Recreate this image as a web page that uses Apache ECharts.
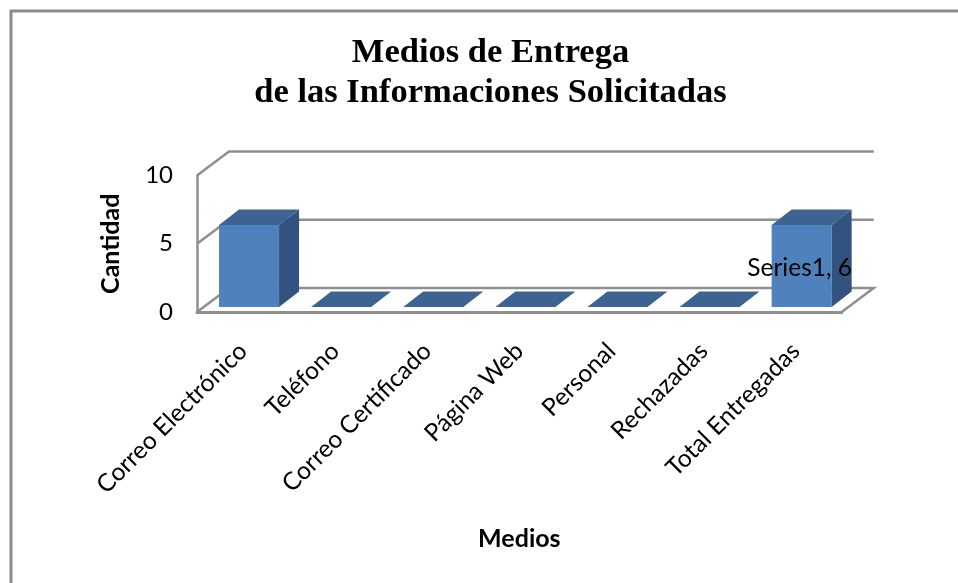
<!DOCTYPE html>
<html>
<head>
<meta charset="utf-8">
<style>html,body{margin:0;padding:0;background:#fff}#c{width:958px;height:583px}</style>
<script src="https://cdn.jsdelivr.net/npm/echarts@6/dist/echarts.min.js"></script>
</head>
<body>
<div id="c"></div>
<script>
const seriesName = 'Series1';
const categories = ['Correo Electrónico','Teléfono','Correo Certificado','Página Web','Personal','Rechazadas','Total Entregadas'];
const values = [6,0,0,0,0,0,6];
const labelledPoints = [6];
const yTicks = [0,5,10];

const GREY = '#8f8f8f';
const chart = echarts.init(document.getElementById('c'), null, {renderer:'canvas'});
const depth = [32,24];          // wall depth
const barShift = [6,5];         // bar plane offset from floor front
const barDepth = [20,15.5];
const barHalf = 30;

chart.setOption({
  animation:false,
  backgroundColor:'#fff',
  title:{
    text:'Medios de Entrega\nde las Informaciones Solicitadas',
    left:485.5, top:28, textAlign:'center',
    textStyle:{fontFamily:'Liberation Serif',fontWeight:'bold',fontSize:34.5,lineHeight:40,color:'#000'}
  },
  grid:{left:197,top:175.5,width:644.7,height:136.5},
  xAxis:{
    type:'category',data:categories,
    name:'Medios',nameLocation:'middle',nameGap:214,
    nameTextStyle:{fontFamily:'Lato',fontWeight:'bold',fontSize:25,color:'#000'},
    axisTick:{show:false},
    axisLine:{lineStyle:{color:GREY,width:3}},
    axisLabel:{interval:0,rotate:45,margin:35,fontFamily:'Lato',fontSize:24.5,color:'#000'}
  },
  yAxis:{
    type:'value',min:0,max:10,interval:5,
    name:'Cantidad',nameLocation:'middle',nameGap:74,
    nameTextStyle:{fontFamily:'Lato',fontWeight:'bold',fontSize:25,color:'#000'},
    splitLine:{show:false},axisTick:{show:false},
    axisLine:{show:true,lineStyle:{color:GREY,width:2.5}},
    axisLabel:{margin:24,fontFamily:'Lato',fontSize:24,color:'#000'}
  },
  series:[
    {
      type:'custom',name:'walls',silent:true,z:1,
      coordinateSystem:'cartesian2d',
      data:yTicks.map(v=>[0,v]),
      renderItem(params,api){
        const p = api.coord([0,api.value(1)]);
        const band = api.size([1,0])[0];
        const x0 = p[0]-band/2, y = p[1];
        const xEnd = x0+band*categories.length;
        const pts = [[x0,y],[x0+depth[0],y-depth[1]],[xEnd+depth[0],y-depth[1]]];
        if(api.value(1)===0) pts.push([xEnd,y]);
        return {type:'polyline',shape:{points:pts},style:{fill:null,stroke:GREY,lineWidth:2.5}};
      }
    },
    {
      type:'custom',name:seriesName,z:3,
      coordinateSystem:'cartesian2d',
      data:values.map((v,i)=>[i,v]),
      renderItem(params,api){
        const i = api.value(0), v = api.value(1);
        const top = api.coord([i,v]), base = api.coord([i,0]);
        const l = top[0]+barShift[0]-barHalf, r = top[0]+barShift[0]+barHalf;
        const t = top[1]-barShift[1], b = base[1]-barShift[1];
        const dx = barDepth[0], dy = barDepth[1];
        const children = [];
        if(v>0){
          children.push({type:'polygon',shape:{points:[[l,t],[r,t],[r,b],[l,b]]},style:{fill:'#4F81BD'}});
          children.push({type:'polygon',shape:{points:[[r,t],[r+dx,t-dy],[r+dx,b-dy],[r,b]]},style:{fill:'#325380'}});
        }
        children.push({type:'polygon',shape:{points:[[l,t],[r,t],[r+dx,t-dy],[l+dx,t-dy]]},style:{fill:'#3D6391'}});
        if(labelledPoints.includes(i)){
          children.push({type:'text',z2:10,style:{
            x:(l+r)/2-2,y:t+43,text:seriesName+', '+v,align:'center',verticalAlign:'middle',
            font:'24.5px Lato',fill:'#000'
          }});
        }
        return {type:'group',children};
      }
    }
  ],
  graphic:[
    {type:'polyline',silent:true,shape:{points:[[11,583],[11,11],[958,11]]},style:{fill:null,stroke:'#8a8a8a',lineWidth:3}}
  ]
});
</script>
</body>
</html>
